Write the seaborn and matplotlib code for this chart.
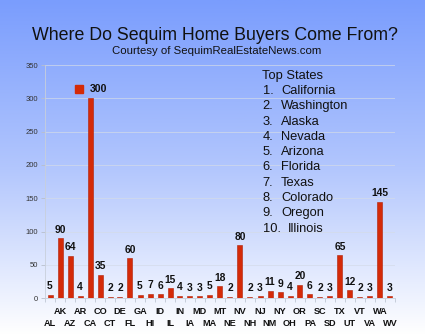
import numpy as np
import pandas as pd
import matplotlib
matplotlib.use("Agg")
import matplotlib.pyplot as plt
import matplotlib.transforms as mtransforms
from matplotlib.colors import LinearSegmentedColormap
import seaborn as sns

# Buyers by home state
states = ["AL", "AK", "AZ", "AR", "CA", "CO", "CT", "DE", "FL", "GA", "HI", "ID",
          "IL", "IN", "IA", "MD", "MA", "MT", "NE", "NV", "NH", "NJ", "NM", "NY",
          "OH", "OR", "PA", "SC", "SD", "TX", "UT", "VT", "VA", "WA", "WV"]
buyers = [5, 90, 64, 4, 300, 35, 2, 2, 60, 5, 7, 6,
          15, 4, 3, 3, 5, 18, 2, 80, 2, 3, 11, 9,
          4, 20, 6, 2, 3, 65, 12, 2, 3, 145, 3]
top_states = ["California", "Washington", "Alaska", "Nevada", "Arizona",
              "Florida", "Texas", "Colorado", "Oregon", "Illinois"]
y_ticks = [0, 50, 100, 150, 200, 250, 300, 350]

title = "Where Do Sequim Home Buyers Come From?"
subtitle = "Courtesy of SequimRealEstateNews.com"

sns.set_theme(style="white")
plt.rcParams["font.family"] = ["Liberation Sans", "DejaVu Sans"]

W, H = 425, 335
fig = plt.figure(figsize=(W / 100, H / 100), dpi=100)

# blue-to-white vertical gradient behind everything
bg = fig.add_axes([0, 0, 1, 1], zorder=-10)
cmap = LinearSegmentedColormap.from_list("sky", ["#7a9dfd", "#b2c6fd", "#ffffff"])
grad = np.linspace(0, 1, 256).reshape(-1, 1)
bg.imshow(grad, aspect="auto", cmap=cmap, extent=[0, 1, 0, 1], origin="upper")
bg.set_axis_off()

ax = fig.add_axes([45 / W, 1 - 298.3 / H, 350 / W, (298.3 - 65) / H])
ax.patch.set_alpha(0)

df = pd.DataFrame({"state": states, "buyers": buyers})
bar_color = "#d42a08"
sns.barplot(data=df, x="state", y="buyers", color=bar_color, width=0.5,
            saturation=1, edgecolor="#b02006", linewidth=0.4, ax=ax, zorder=3)

n = len(states)
ax.set_xlim(-0.5, n - 0.5)
ax.set_ylim(0, 350)
ax.set_yticks(y_ticks)
ax.set_xlabel("")
ax.set_ylabel("")

grid_color = "#d4dbe8"
ax.grid(axis="y", color=grid_color, linewidth=0.6, alpha=0.8, zorder=0)
for side in ["top", "right"]:
    ax.spines[side].set_visible(False)
ax.axvline(n - 0.5, color=grid_color, linewidth=0.6, alpha=0.8, zorder=0)
for side in ["left", "bottom"]:
    ax.spines[side].set_color("#c8cfdb")
    ax.spines[side].set_linewidth(0.6)

ax.tick_params(axis="y", labelsize=5.5, labelcolor="#333333", length=3,
               color="#b8bfcc", width=0.6, pad=2, left=True)

label_kw = dict(fontsize=6.6, fontweight="bold", color="#111111")

# upper row of state labels (odd positions)
upper = list(range(1, n, 2))
ax.set_xticks(upper)
ax.set_xticklabels([states[i] for i in upper], **label_kw)
ax.tick_params(axis="x", which="major", length=0, pad=6.3)

# small separators between categories
ax.set_xticks(np.arange(-0.5, n, 1.0), minor=True)
ax.tick_params(axis="x", which="minor", length=3, width=0.6, color="#c0c7d4",
               bottom=True)

# lower row of state labels (even positions)
lower = list(range(0, n, 2))
sec = ax.secondary_xaxis("bottom")
sec.set_xticks(lower)
sec.set_xticklabels([states[i] for i in lower], **label_kw)
sec.tick_params(axis="x", length=0, pad=15)
sec.spines["bottom"].set_visible(False)

# value labels above the bars
for i, v in enumerate(buyers):
    if states[i] == "CA":
        continue
    ax.annotate(f"{v}", xy=(i, v), xytext=(0, 2.5), textcoords="offset points",
                ha="center", va="bottom", fontsize=7.4, fontweight="bold",
                color="#111111", zorder=5)

# California label with a swatch beside it
ca = states.index("CA")
ax.annotate(f"{buyers[ca]}", xy=(ca, buyers[ca]), xytext=(0, 7),
            textcoords="offset points", ha="left", va="center",
            fontsize=7.6, fontweight="bold", color="#111111", zorder=5)
sw = mtransforms.offset_copy(ax.transData, fig=fig, x=-7.9, y=6.9, units="points")
ax.plot([ca], [buyers[ca]], marker="s", markersize=6, color=bar_color,
        transform=sw, clip_on=False, zorder=5)

fig.text(215 / W, 1 - 36 / H, title, ha="center", va="center",
         fontsize=12.8, color="#111111")
fig.text(216.5 / W, 1 - 50.5 / H, subtitle, ha="center", va="center",
         fontsize=8.2, color="#111111")

# ranked list of leading states
line_y0, line_step = 75.7, 15.3
fig.text(262.5 / W, 1 - line_y0 / H, "Top States", ha="left", va="center",
         fontsize=9.3, color="#111111")
for k, name in enumerate(top_states, start=1):
    yy = 1 - (line_y0 + k * line_step) / H
    name_x = 281 if k < 10 else 287.5
    fig.text(262.5 / W, yy, f"{k}.", ha="left", va="center",
             fontsize=9.3, color="#111111")
    fig.text(name_x / W, yy, name, ha="left", va="center",
             fontsize=9.3, color="#111111")

fig.savefig("out.png", dpi=100)
